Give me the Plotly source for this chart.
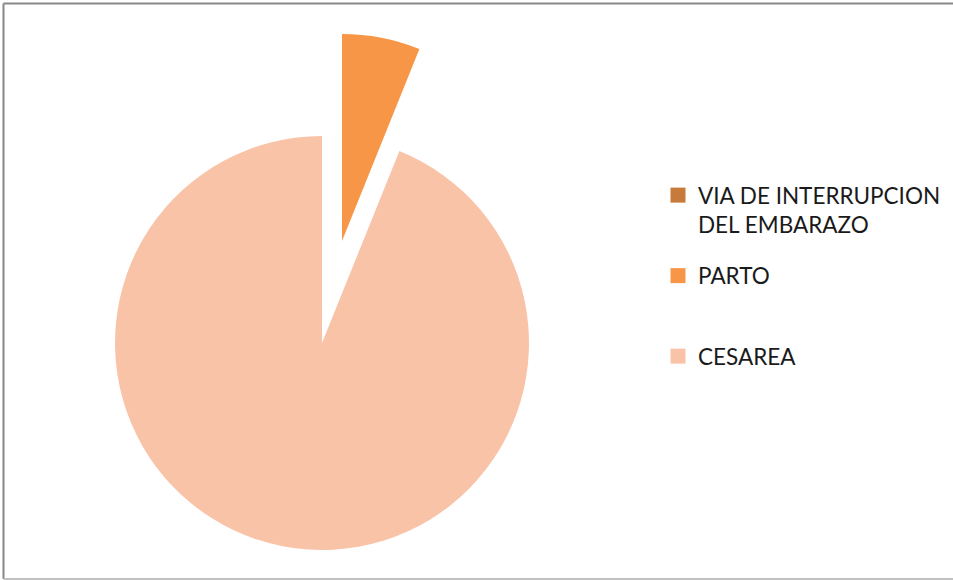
import plotly.graph_objects as go

# Delivery route shares
labels = ["VIA DE INTERRUPCION DEL EMBARAZO", "PARTO", "CESAREA"]
values = [0, 6.1, 93.9]
colors = ["#C87A3B", "#F79646", "#F9C3A8"]
legend_text = ["VIA DE INTERRUPCION<br>DEL EMBARAZO", "PARTO<br> ", "CESAREA"]

W, H = 953, 580
R = 207  # pie radius in px


def domain(cx, cy):
    return dict(x=[(cx - R) / W, (cx + R) / W],
                y=[1 - (cy + R) / H, 1 - (cy - R) / H])


clear = "rgba(0,0,0,0)"
fig = go.Figure()

# main body: CESAREA slice stays in place
fig.add_trace(go.Pie(
    labels=labels, values=values, sort=False, direction="clockwise", rotation=0,
    marker=dict(colors=[clear, clear, colors[2]], line=dict(width=0)),
    textinfo="none", showlegend=False, domain=domain(322, 343), hoverinfo="label+percent",
))
# exploded PARTO slice, offset along its bisector
fig.add_trace(go.Pie(
    labels=labels, values=values, sort=False, direction="clockwise", rotation=0,
    marker=dict(colors=[clear, colors[1], clear], line=dict(width=0)),
    textinfo="none", showlegend=False, domain=domain(342, 241), hoverinfo="label+percent",
))

# legend entries
for name, txt, c in zip(labels, legend_text, colors):
    fig.add_trace(go.Scatter(
        x=[None], y=[None], mode="markers", name=txt, legendgroup=name,
        marker=dict(symbol="square", size=15, color=c), hoverinfo="skip",
    ))

fig.update_layout(
    width=W, height=H,
    margin=dict(l=0, r=0, t=0, b=0),
    paper_bgcolor="white", plot_bgcolor="white",
    xaxis=dict(visible=False), yaxis=dict(visible=False),
    legend=dict(
        x=658 / W, xanchor="left", y=1 - 174 / H, yanchor="top",
        font=dict(family="Lato", size=22.5, color="#1a1a1a"),
        valign="top", traceorder="grouped", tracegroupgap=19,
        bgcolor="rgba(0,0,0,0)", borderwidth=0,
    ),
    shapes=[
        dict(type="line", xref="paper", yref="paper", x0=3.5 / W, x1=1.0,
             y0=1 - 3.5 / H, y1=1 - 3.5 / H, line=dict(color="#888888", width=2)),
        dict(type="line", xref="paper", yref="paper", x0=3.5 / W, x1=3.5 / W,
             y0=1 - 3.5 / H, y1=1 - 579 / H, line=dict(color="#888888", width=2)),
        dict(type="line", xref="paper", yref="paper", x0=3.5 / W, x1=1.0,
             y0=1 - 579 / H, y1=1 - 579 / H, line=dict(color="#C0C0C0", width=2)),
    ],
)

fig.write_html("out.html")
